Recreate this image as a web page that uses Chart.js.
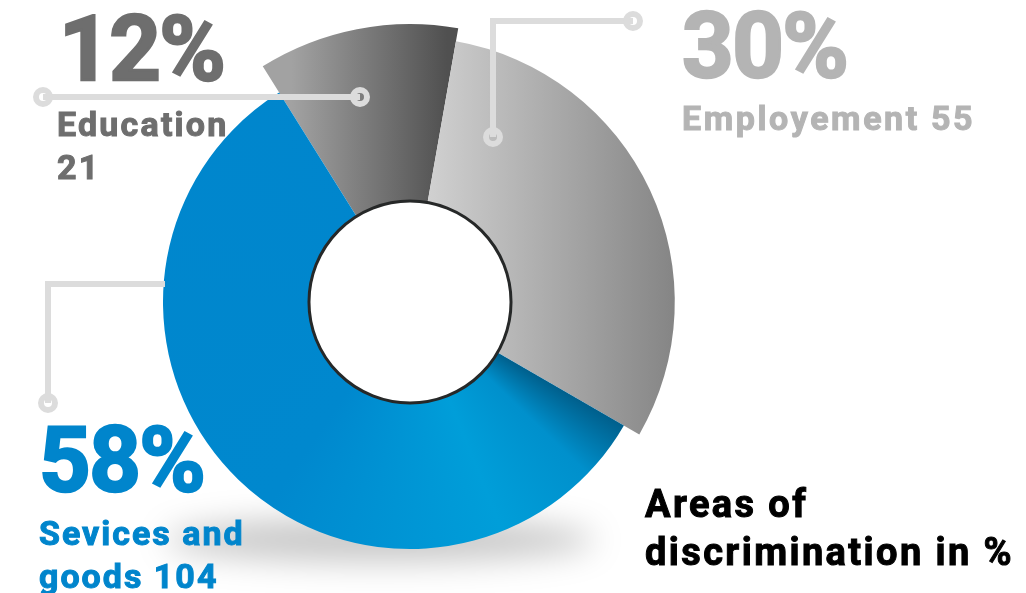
<!DOCTYPE html>
<html>
<head>
<meta charset="utf-8">
<script src="https://cdn.jsdelivr.net/npm/chart.js@4"></script>
<style>
  body { margin: 0; background: #fff; width: 1026px; height: 593px; overflow: hidden; position: relative; font-family: Roboto, "DejaVu Sans", sans-serif; }
  canvas { position: absolute; left: 0; top: 0; }
  .t { position: absolute; white-space: nowrap; font-weight: 700; line-height: 1; -webkit-text-stroke: 1px currentColor; }
  .big { font-size: 90px; letter-spacing: -1.5px; -webkit-text-stroke: 2.5px currentColor; }
  .lbl { font-size: 34px; letter-spacing: 2.2px; }
  .ttl { font-size: 38px; letter-spacing: 2.4px; color: #000; }
</style>
</head>
<body>
<canvas id="doughnutChart" width="1026" height="593"></canvas>

<div class="t big" style="left:59px; top:5px; color:#6e6e6e;">12%</div>
<div class="t lbl" style="left:57px; top:107px; color:#6e6e6e;">Education</div>
<div class="t lbl" style="left:57px; top:150px; color:#6e6e6e;">21</div>

<div class="t big" style="left:682px; top:2px; color:#b4b4b4;">30%</div>
<div class="t lbl" style="left:682px; top:101px; color:#b4b4b4; letter-spacing:2.6px;">Employement 55</div>

<div class="t big" style="left:39px; top:416px; color:#0085cc;">58%</div>
<div class="t lbl" style="left:39px; top:516px; color:#0085cc; letter-spacing:2px;">Sevices and</div>
<div class="t lbl" style="left:39px; top:559px; color:#0085cc; letter-spacing:2px;">goods 104</div>

<div class="t ttl" style="left:645px; top:485px;">Areas of</div>
<div class="t ttl" style="left:645px; top:533px;">discrimination in %</div>

<script>
var labels = ["Education", "Employement", "Sevices and goods"];
var counts = [21, 55, 104];
var percents = [12, 30, 58];

// outer radius of each slice relative to the blue one
var radiusScale = [1.125, 1.072, 1];

function sliceColor(context) {
    var chart = context.chart;
    var area = chart.chartArea;
    var c = chart.ctx;
    var i = context.dataIndex;
    if (!area) return ['#777', '#bbb', '#0085cc'][i];
    var cx = (area.left + area.right) / 2;
    var cy = (area.top + area.bottom) / 2;
    var r = Math.min(area.width, area.height) / 2;
    var g;
    if (i === 0) {
        g = c.createLinearGradient(cx - 0.48 * r, 0, cx + 0.15 * r, 0);
        g.addColorStop(0, '#a2a2a2');
        g.addColorStop(1, '#505050');
    } else if (i === 1) {
        g = c.createLinearGradient(cx, 0, cx + 1.07 * r, 0);
        g.addColorStop(0, '#d6d6d6');
        g.addColorStop(1, '#858585');
    } else {
        var start = (120 - 90) * Math.PI / 180;
        g = c.createConicGradient(start, cx, cy);
        g.addColorStop(0, '#005f8c');
        g.addColorStop(14 / 360, '#0090cc');
        g.addColorStop(38 / 360, '#009ed9');
        g.addColorStop(95 / 360, '#0088ce');
        g.addColorStop(1, '#0083cb');
    }
    return g;
}

var extras = {
    id: 'extras',
    beforeDatasetsDraw: function (chart) {
        var meta = chart.getDatasetMeta(0);
        var base = meta.controller.outerRadius;
        meta.data.forEach(function (arc, i) {
            arc.outerRadius = base * radiusScale[i];
        });
        // soft shadow under the ring
        var c = chart.ctx;
        c.save();
        c.filter = 'blur(16px)';
        c.fillStyle = 'rgba(0,0,0,0.22)';
        c.beginPath();
        c.ellipse(380, 540, 215, 22, 0, 0, Math.PI * 2);
        c.fill();
        c.restore();
    },
    afterDatasetsDraw: function (chart) {
        var c = chart.ctx;
        var arc = chart.getDatasetMeta(0).data[0];
        // outline of the hole
        c.save();
        c.strokeStyle = '#262828';
        c.lineWidth = 3;
        c.beginPath();
        c.arc(arc.x, arc.y, arc.innerRadius, 0, Math.PI * 2);
        c.stroke();

        // callout lines
        c.strokeStyle = '#dcdcdc';
        c.lineWidth = 6;
        c.beginPath();
        c.moveTo(43, 97); c.lineTo(360, 97);
        c.moveTo(493, 137); c.lineTo(493, 21); c.lineTo(633, 21);
        c.moveTo(48, 403); c.lineTo(48, 284); c.lineTo(165, 284);
        c.stroke();

        [[43, 97], [360, 97], [493, 137], [633, 21], [48, 403]].forEach(function (p) {
            c.beginPath();
            c.arc(p[0], p[1], 7, 0, Math.PI * 2);
            c.lineWidth = 6;
            c.stroke();
        });
        c.restore();
    }
};

var ctx_doughnut = document.getElementById("doughnutChart");
var doughnutChart = new Chart(ctx_doughnut, {
    type: 'doughnut',
    data: {
        labels: labels,
        datasets: [{
            data: counts,
            backgroundColor: sliceColor,
            borderWidth: 0,
            clip: false
        }]
    },
    options: {
        responsive: false,
        animation: false,
        events: [],
        rotation: -32,
        cutout: '40.9%',
        layout: {
            padding: { left: 163, right: 369, top: 55, bottom: 44 }
        },
        plugins: {
            legend: { display: false },
            tooltip: { enabled: false }
        }
    },
    plugins: [extras]
});
</script>
</body>
</html>
